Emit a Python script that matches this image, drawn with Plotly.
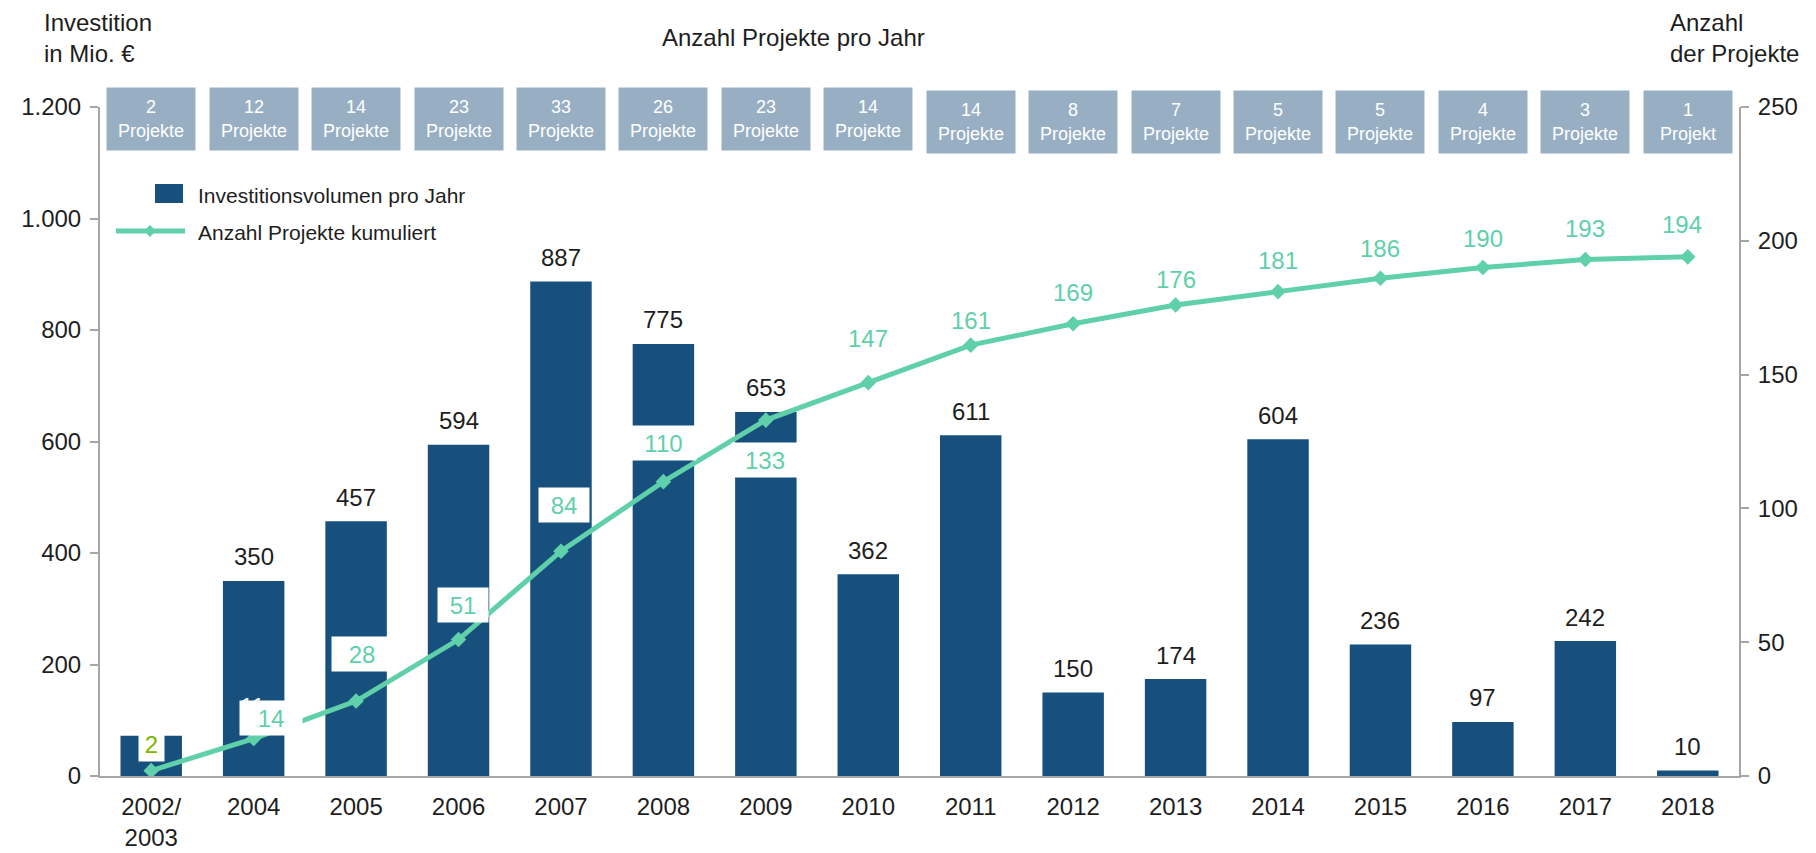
import plotly.graph_objects as go

# data
years = ["2002/<br>2003", "2004", "2005", "2006", "2007", "2008", "2009", "2010",
         "2011", "2012", "2013", "2014", "2015", "2016", "2017", "2018"]
investment = [72, 350, 457, 594, 887, 775, 653, 362, 611, 150, 174, 604, 236, 97, 242, 10]
projects_per_year = [2, 12, 14, 23, 33, 26, 23, 14, 14, 8, 7, 5, 5, 4, 3, 1]
projects_cumulative = [2, 14, 28, 51, 84, 110, 133, 147, 161, 169, 176, 181, 186, 190, 193, 194]

BAR = "#17507D"
MINT = "#5FD0AA"
BOX = "#98AFC3"
GREY = "#A6A6A6"
TXT = "#1E1E1E"
FONT = "Liberation Sans, Arial, sans-serif"

W, H = 1816, 853
L, R, T, B = 100, 77, 107, 77


def px(x):
    return (x - L) / (W - L - R)


def py(y):
    return (H - B - y) / (H - T - B)


fig = go.Figure()
fig.add_trace(go.Bar(x=years, y=investment, marker=dict(color=BAR, line=dict(width=0)),
                     name="Investitionsvolumen pro Jahr", hoverinfo="y"))
fig.add_trace(go.Scatter(x=years, y=projects_cumulative, yaxis="y2", mode="lines+markers",
                         line=dict(color=MINT, width=5),
                         marker=dict(symbol="diamond", size=12, color=MINT),
                         name="Anzahl Projekte kumuliert"))

ann = []

# investment labels above bars (first one has none); category axis -> use index
for i, v in enumerate(investment):
    if i == 0:
        continue
    ann.append(dict(x=i, y=v, text=str(v), showarrow=False, yshift=24,
                    font=dict(size=24, color=TXT)))

# leftover label partly hidden behind the "14" box
ann.append(dict(x=1, y=projects_cumulative[1], yref="y2", text="11", showarrow=False,
                yshift=32, xshift=-1, font=dict(size=24, color="white")))

# cumulative labels: offsets (px) and box settings per label
shift_y = [27, 21, 47, 35, 46, 39, -40, 44, 25, 31, 26, 31, 30, 29, 31, 32]
shift_x = [0, 17, 6, 4, 3, 0, -1, 0, 0, 0, 0, 0, 0, 0, 0, -6]
boxed = [True] * 7 + [False] * 9
box_w = [23, 60, 58, 48, 48, 63, 64] + [None] * 9
for i, v in enumerate(projects_cumulative):
    a = dict(x=i, y=v, yref="y2", text=str(v), showarrow=False,
             xshift=shift_x[i], yshift=shift_y[i],
             font=dict(size=24, color="#7AB800" if i == 0 else MINT))
    if boxed[i]:
        a.update(bgcolor="white", width=box_w[i], height=32)
    ann.append(a)

# boxes with projects per year
for i, n in enumerate(projects_per_year):
    word = "Projekt" if n == 1 else "Projekte"
    ann.append(dict(x=i, y=py(119 + (2.5 if i >= 8 else 0)), yref="paper", yanchor="middle",
                    text=f"{n}<br>{word}", showarrow=False, bgcolor=BOX,
                    width=86, height=60, valign="middle",
                    font=dict(size=18, color="white")))

# titles
ann += [
    dict(x=px(42), y=py(38), xref="paper", yref="paper", xanchor="left", yanchor="middle",
         text="Investition<br>in Mio. €", showarrow=False, align="left",
         font=dict(size=24, color=TXT)),
    dict(x=px(1668), y=py(38), xref="paper", yref="paper", xanchor="left", yanchor="middle",
         text="Anzahl<br>der Projekte", showarrow=False, align="left",
         font=dict(size=24, color=TXT)),
    dict(x=px(793), y=py(37), xref="paper", yref="paper", xanchor="center", yanchor="middle",
         text="Anzahl Projekte pro Jahr", showarrow=False,
         font=dict(size=24, color=TXT)),
    dict(x=px(196), y=py(195), xref="paper", yref="paper", xanchor="left", yanchor="middle",
         text="Investitionsvolumen pro Jahr", showarrow=False,
         font=dict(size=21, color=TXT)),
    dict(x=px(196), y=py(232), xref="paper", yref="paper", xanchor="left", yanchor="middle",
         text="Anzahl Projekte kumuliert", showarrow=False,
         font=dict(size=21, color=TXT)),
]

# hand-drawn legend symbols
shapes = [
    dict(type="rect", xref="paper", yref="paper", x0=px(155), x1=px(183), y0=py(203), y1=py(184),
         fillcolor=BAR, line=dict(width=0)),
    dict(type="line", xref="paper", yref="paper", x0=px(116), x1=px(185), y0=py(231), y1=py(231),
         line=dict(color=MINT, width=5)),
    dict(type="path", xref="paper", yref="paper", fillcolor=MINT, line=dict(width=0),
         path=f"M {px(144)} {py(231)} L {px(150)} {py(225)} L {px(156)} {py(231)} "
              f"L {px(150)} {py(237)} Z"),
]

axis_common = dict(showline=True, linecolor=GREY, linewidth=2, ticks="outside", ticklen=8,
                   tickcolor=GREY, tickwidth=2, showgrid=False, zeroline=False,
                   tickfont=dict(size=24, color=TXT), ticklabelstandoff=4)

fig.update_layout(
    width=W, height=H,
    margin=dict(l=L, r=R, t=T, b=B, pad=0, autoexpand=False),
    paper_bgcolor="white", plot_bgcolor="white",
    font=dict(family=FONT, color=TXT),
    separators=",.",
    showlegend=False,
    bargap=0.4,
    xaxis=dict(type="category", showline=True, linecolor=GREY, linewidth=2, ticks="",
               showgrid=False, tickfont=dict(size=24, color=TXT), range=[-0.5, 15.5],
               ticklabelstandoff=8),
    yaxis=dict(range=[0, 1200], dtick=200, separatethousands=True, **axis_common),
    yaxis2=dict(range=[0, 250], dtick=50, overlaying="y", side="right", **axis_common),
    annotations=ann,
    shapes=shapes,
)

# drop the browser's default 8px body margin so the figure fills the window
fig.write_html("out.html", config={"displayModeBar": False},
               post_script="document.body.style.margin='0';"
                           "document.body.style.overflow='hidden';")
